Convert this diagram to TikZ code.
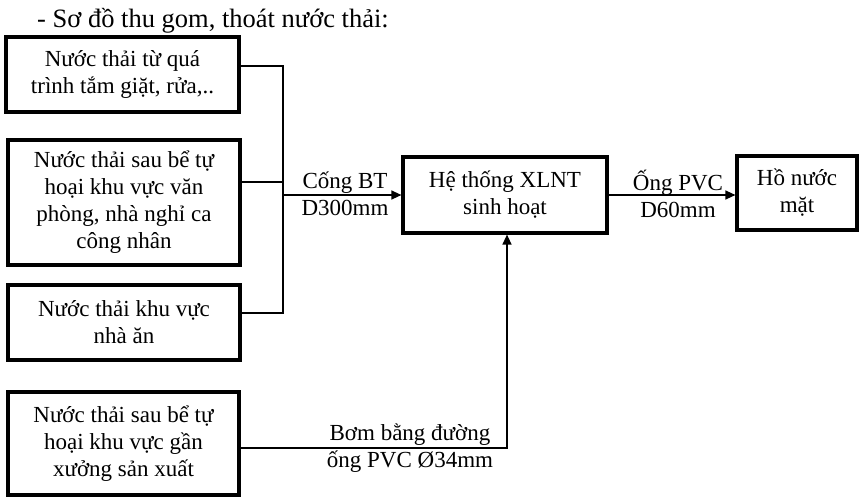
\documentclass[tikz,border=0pt]{standalone}
\usepackage{fontspec}
\setmainfont{Liberation Serif}
\usetikzlibrary{arrows.meta}
\begin{document}
\begin{tikzpicture}[x=1pt,y=-1pt,
  box/.style={draw, line width=3.2pt, align=center, inner sep=0pt,
    font=\fontsize{23}{27}\selectfont},
  conn/.style={draw, line width=1.3pt},
  arr/.style={conn, -{Triangle[length=10pt,width=9pt]}},
  lbl/.style={align=center, inner sep=0pt, font=\fontsize{23}{27}\selectfont}]
\useasboundingbox (0,0) rectangle (859,498);
\node[anchor=west, inner sep=0pt, font=\fontsize{26.5}{30}\selectfont] (title) at (37,21) {- Sơ đồ thu gom, thoát nước thải:};
\node[box, minimum width=233pt, minimum height=75pt] (b1) at (122.5,74.5) {Nước thải từ quá\\trình tắm giặt, rửa,..};
\node[box, minimum width=232pt, minimum height=125pt] (b2) at (124,202.5) {Nước thải sau bể tự\\hoại khu vực văn\\phòng, nhà nghỉ ca\\công nhân};
\node[box, minimum width=232pt, minimum height=75pt] (b3) at (124,322.5) {Nước thải khu vực\\nhà ăn};
\node[box, minimum width=231pt, minimum height=103pt] (b4) at (123.5,443.5) {Nước thải sau bể tự\\hoại khu vực gần\\xưởng sản xuất};
\node[box, minimum width=204pt, minimum height=76pt] (x) at (505,195) {Hệ thống XLNT\\sinh hoạt};
\node[box, minimum width=120pt, minimum height=74pt] (h) at (797,193) {Hồ nước\\mặt};
\coordinate (jt) at (283,66);
\coordinate (jb) at (283,313);
\coordinate (jm) at (283,195);
\coordinate (jp) at (507,448);
\draw[conn] ([yshift=8.5pt]b1.east) -- (jt) -- (jb) -- ([yshift=9.5pt]b3.east);
\draw[conn] ([yshift=20.5pt]b2.east) -- (283,182);
\draw[arr] (jm) -- (x.west |- jm);
\draw[arr] (x.east |- jm) -- (h.west |- jm);
\draw[arr] ([yshift=-4.5pt]b4.east) -- (jp) -- (x.south -| jp);
\node[lbl] (l1) at (345,193.5) {Cống BT\\D300mm};
\node[lbl] (l2) at (678,193.5) {Ống PVC\\D60mm};
\node[lbl] (l3) at (410,448.5) {Bơm bằng đường\\ống PVC Ø34mm};
\end{tikzpicture}
\end{document}
